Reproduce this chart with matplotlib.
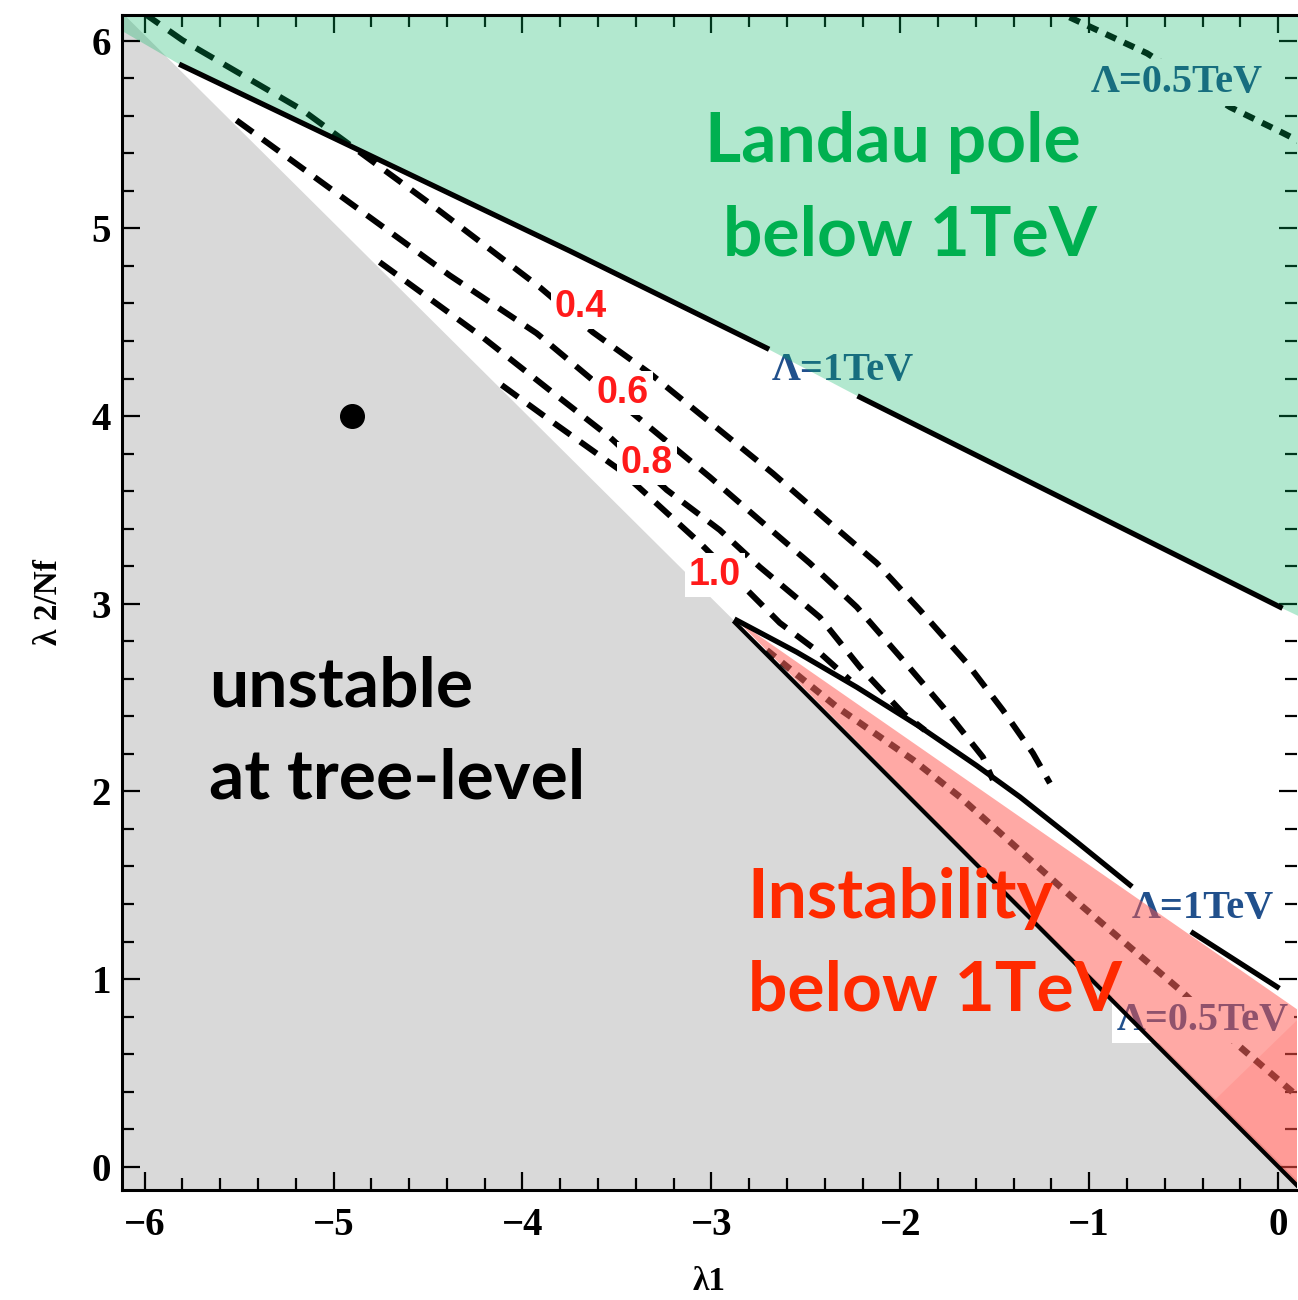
import matplotlib
matplotlib.use("Agg")
import matplotlib.pyplot as plt
from matplotlib.ticker import MultipleLocator

# frame of the plot
x_range = (-6.12, 0.10)
y_range = (-0.124, 6.137)
x_ticks = [-6, -5, -4, -3, -2, -1, 0]
y_ticks = [0, 1, 2, 3, 4, 5, 6]

# edge of the tree-level stable region (gray below it)
tree_x = [-6.2, 0.2]
tree_y = [6.23, -0.17]

# Landau pole at 1 TeV (solid), green region above it
landau_x = [-5.805, -3.750, -2.707, -2.214, 0.011]
landau_y = [5.869, 4.880, 4.362, 4.101, 2.982]
green_x = [-6.20] + landau_x + [0.12]
green_y = [6.10] + landau_y + [2.93]

# Landau pole at 0.5 TeV (dotted, top right)
landau05_x = [-1.20, -0.694, -0.254, 0.026, 0.12]
landau05_y = [6.17, 5.933, 5.646, 5.508, 5.46]

# instability below 1 TeV (solid) and the red band
inst_x = [-2.866, -2.548, -2.230, -1.896, -1.594, -1.366, -1.065, -0.784, -0.450, -0.005]
inst_y = [2.912, 2.742, 2.555, 2.344, 2.136, 1.970, 1.730, 1.501, 1.245, 0.958]
red_x = [-2.866, 0.12, 0.12]
red_y = [2.912, 0.825, -0.12]
red2_x = [-0.344, 0.12, 0.12]
red2_y = [0.347, 0.80, -0.12]

# instability below 0.5 TeV (dotted, inside the red band)
inst05_x = [-2.707, -2.336, -1.933, -1.684, -1.033, -0.519, -0.201, 0.064, 0.12]
inst05_y = [2.752, 2.450, 2.168, 1.970, 1.384, 0.942, 0.638, 0.409, 0.36]

# straight edge lambda2/Nf = -lambda1
diag_x = [-2.876, 0.12]
diag_y = [2.900, -0.12]

# dashed contours 0.4 .. 1.0
c04_x = [-6.012, -5.800, -5.164, -4.492, -3.909, -3.628, -3.326, -2.956, -2.675,
         -2.389, -2.124, -1.896, -1.647, -1.457, -1.298, -1.208]
c04_y = [6.152, 6.003, 5.630, 5.134, 4.687, 4.447, 4.228, 3.925, 3.695,
         3.445, 3.216, 2.966, 2.683, 2.433, 2.204, 2.044]
c06_x = [-5.514, -4.386, -3.925, -3.628, -3.289, -3.008, -2.744, -2.479, -2.230,
         -1.986, -1.774, -1.563, -1.510]
c06_y = [5.576, 4.750, 4.441, 4.191, 3.909, 3.675, 3.445, 3.216, 2.982,
         2.700, 2.450, 2.183, 2.061]
c08_x = [-4.756, -4.211, -3.856, -3.538, -3.236, -2.956, -2.744, -2.426, -2.214,
         -1.986, -1.870]
c08_y = [4.820, 4.420, 4.138, 3.888, 3.606, 3.393, 3.196, 2.928, 2.662,
         2.417, 2.326]
c10_x = [-4.110, -3.856, -3.485, -3.061, -2.812, -2.638, -2.426, -2.267]
c10_y = [4.165, 3.979, 3.713, 3.324, 3.074, 2.898, 2.738, 2.594]

contour_text = ["0.4", "0.6", "0.8", "1.0"]
contour_tx = [-3.692, -3.469, -3.342, -2.982]
contour_ty = [4.581, 4.122, 3.748, 3.154]

# cutoff labels
cut_text = ["\u039b=0.5TeV", "\u039b=1TeV", "\u039b=1TeV", "\u039b=0.5TeV"]
cut_tx = [-0.535, -2.304, -0.397, -0.397]
cut_ty = [5.778, 4.244, 1.378, 0.781]

point_x = [-4.9]
point_y = [4.0]

serif = "Liberation Serif"
fig = plt.figure(figsize=(12.98, 13.0), dpi=100)
ax = fig.add_axes([122 / 1298, 110 / 1300, 1175 / 1298, 1175 / 1300])
ax.set_xlim(*x_range)
ax.set_ylim(*y_range)

ax.fill_between(tree_x, y_range[0] - 1, tree_y, color="#d9d9d9", lw=0, zorder=1)

dash = (0, (3.4, 2.0))
for cx, cy in [(c04_x, c04_y), (c06_x, c06_y), (c08_x, c08_y), (c10_x, c10_y)]:
    ax.plot(cx, cy, color="black", lw=4.3, ls=dash, zorder=2)
ax.plot(landau05_x, landau05_y, color="black", lw=4.5, ls=(0, (1.8, 1.4)), zorder=2)
ax.plot(inst05_x, inst05_y, color="#202020", lw=4.8, ls=(0, (1.6, 1.3)), zorder=2)
ax.plot(point_x, point_y, "o", color="black", ms=17, zorder=2)

for t, tx, ty in zip(contour_text, contour_tx, contour_ty):
    ax.text(tx, ty, t, color="#ff1a1a", fontsize=27, fontweight="bold",
            family="Liberation Sans", ha="center", va="center", zorder=3,
            bbox=dict(boxstyle="square,pad=0.1", fc="white", ec="none"))
for t, tx, ty in zip(cut_text, cut_tx, cut_ty):
    ax.text(tx, ty, t, color="#21508c", fontsize=29, fontweight="bold",
            family=serif, ha="center", va="center", zorder=3,
            bbox=dict(boxstyle="square,pad=0.12", fc="white", ec="none"))

# translucent regions over the lines
ax.fill_between(green_x, green_y, y_range[1] + 1, color=(2 / 255, 182 / 255, 98 / 255),
                alpha=0.3, lw=0, zorder=4)
ax.fill(red_x, red_y, color=(1.0, 85 / 255, 77 / 255), alpha=0.5, lw=0, zorder=4)
ax.fill(red2_x, red2_y, color=(1.0, 60 / 255, 50 / 255), alpha=0.12, lw=0, zorder=4)

# solid boundaries, broken where the labels sit
ax.plot(landau_x[:3], landau_y[:3], color="black", lw=3.8, zorder=5)
ax.plot(landau_x[3:], landau_y[3:], color="black", lw=3.8, zorder=5)
ax.plot(inst_x[:8], inst_y[:8], color="black", lw=3.8, zorder=5)
ax.plot(inst_x[8:], inst_y[8:], color="black", lw=3.8, zorder=5)
ax.plot(diag_x, diag_y, color="black", lw=3.0, zorder=5)

big = dict(fontsize=50, fontweight="bold", family="Lato", zorder=6)
ax.text(-2.039, 5.352, "Landau pole", color="#00b050", ha="center", va="baseline", **big)
ax.text(-1.949, 4.857, "below 1TeV", color="#00b050", ha="center", va="baseline", **big)
ax.text(-5.657, 2.454, "unstable", color="black", ha="left", va="baseline", **big)
ax.text(-5.657, 1.964, "at tree-level", color="black", ha="left", va="baseline", **big)
ax.text(-2.807, 1.325, "Instability", color="#ff2a00", ha="left", va="baseline", **big)
ax.text(-2.807, 0.835, "below 1TeV", color="#ff2a00", ha="left", va="baseline", **big)

ax.set_xticks(x_ticks)
ax.set_yticks(y_ticks)
ax.xaxis.set_minor_locator(MultipleLocator(0.2))
ax.yaxis.set_minor_locator(MultipleLocator(0.2))
ax.tick_params(which="both", direction="in", top=True, right=True, width=1.6, zorder=7)
ax.tick_params(which="major", length=13)
ax.tick_params(which="minor", length=8.5)
ax.tick_params(axis="x", pad=12)
ax.tick_params(axis="y", pad=8)
for lab in ax.get_xticklabels() + ax.get_yticklabels():
    lab.set_family(serif)
    lab.set_fontweight("bold")
    lab.set_fontsize(28)
for s in ["left", "bottom", "top"]:
    ax.spines[s].set_linewidth(2.2)
    ax.spines[s].set_zorder(7)
ax.spines["right"].set_visible(False)

ax.set_xlabel("\u03bb1", family=serif, fontweight="bold", fontsize=24, labelpad=16)
ax.set_ylabel("\u03bb 2/Nf", family=serif, fontweight="bold", fontsize=24, labelpad=20)

fig.savefig("out.png", dpi=100)
